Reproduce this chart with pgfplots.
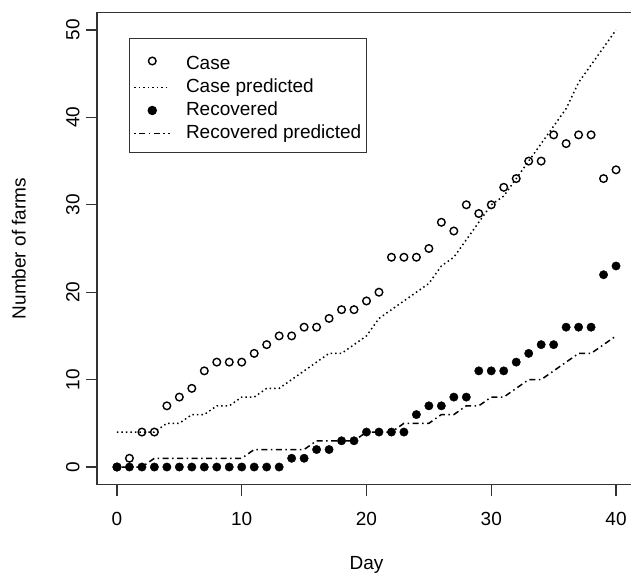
\documentclass[border=0pt]{standalone}
\usepackage{fontspec}
\setmainfont{Liberation Sans}
\usepackage{pgfplots}
\pgfplotsset{compat=1.18}

\begin{document}
\fontsize{19}{23}\selectfont
\begin{tikzpicture}
\begin{axis}[
    scale only axis,
    width=539pt, height=472pt,
    xmin=-1.6, xmax=41.6, ymin=-2, ymax=52,
    xtick={0,10,20,30,40},
    ytick={0,10,20,30,40,50},
    xtick pos=bottom, ytick pos=left,
    tick align=outside,
    major tick length=11pt,
    axis line style={line width=1.3pt, black!80},
    every tick/.style={line width=1.3pt, black!80},
    /pgf/number format/assume math mode=true,
    ticklabel style={font=\fontsize{19}{23}\selectfont},
    xticklabel style={anchor=north, yshift=-10pt},
    yticklabel style={rotate=90, anchor=south, xshift=0pt},
    label style={font=\fontsize{19}{23}\selectfont},
    xlabel={Day},
    ylabel={Number of farms},
    xlabel style={at={(axis description cs:0.5,-0.1695)}, anchor=center},
    ylabel style={at={(axis description cs:-0.145,0.5)}, anchor=center},
    legend style={at={(axis description cs:0.0594,0.946)}, anchor=north west,
        draw=black!80, line width=1pt, inner xsep=4pt, inner ysep=9pt,
        font=\fontsize{19}{23}\selectfont, row sep=3pt,
        nodes={inner sep=1pt, text height=14pt, text depth=4pt},
        /tikz/row 1/.style={nodes={text height=21pt}},
        /tikz/every odd column/.append style={column sep=14pt}},
    legend cell align=left,
    legend image code/.code={\draw[mark repeat=2,mark phase=2,#1] plot coordinates {(0pt,0pt)(18pt,0pt)(36pt,0pt)};},
]
\coordinate (sw) at (rel axis cs:0,0);

% observed cases
\addplot[only marks, mark=o, mark size=3.8pt, mark options={line width=1.4pt, black}] coordinates {
(0,0) (1,1) (2,4) (3,4) (4,7) (5,8) (6,9) (7,11) (8,12) (9,12) (10,12)
(11,13) (12,14) (13,15) (14,15) (15,16) (16,16) (17,17) (18,18) (19,18) (20,19)
(21,20) (22,24) (23,24) (24,24) (25,25) (26,28) (27,27) (28,30) (29,29) (30,30)
(31,32) (32,33) (33,35) (34,35) (35,38) (36,37) (37,38) (38,38) (39,33) (40,34)
};
\addlegendentry{Case}

% model for cases
\addplot[black, line width=1.5pt, dash pattern=on 1.5pt off 3pt] coordinates {
(0,4) (1,4) (2,4) (3,4) (4,5) (5,5) (6,6) (7,6) (8,7) (9,7) (10,8)
(11,8) (12,9) (13,9) (14,10) (15,11) (16,12) (17,13) (18,13) (19,14) (20,15)
(21,17) (22,18) (23,19) (24,20) (25,21) (26,23) (27,24) (28,26) (29,28) (30,30)
(31,31) (32,33) (33,35) (34,37) (35,39) (36,41) (37,44) (38,46) (39,48) (40,50)
};
\addlegendentry{Case predicted}

% observed recovered
\addplot[only marks, mark=*, mark size=4.2pt, mark options={black, fill=black}] coordinates {
(0,0) (1,0) (2,0) (3,0) (4,0) (5,0) (6,0) (7,0) (8,0) (9,0) (10,0)
(11,0) (12,0) (13,0) (14,1) (15,1) (16,2) (17,2) (18,3) (19,3) (20,4)
(21,4) (22,4) (23,4) (24,6) (25,7) (26,7) (27,8) (28,8) (29,11) (30,11)
(31,11) (32,12) (33,13) (34,14) (35,14) (36,16) (37,16) (38,16) (39,22) (40,23)
};
\addlegendentry{Recovered}

% model for recovered
\addplot[black, line width=1.5pt, dash pattern=on 1.5pt off 3.5pt on 6pt off 3.5pt] coordinates {
(0,0) (1,0) (2,0) (3,1) (4,1) (5,1) (6,1) (7,1) (8,1) (9,1) (10,1)
(11,2) (12,2) (13,2) (14,2) (15,2) (16,3) (17,3) (18,3) (19,3) (20,4)
(21,4) (22,4) (23,5) (24,5) (25,5) (26,6) (27,6) (28,7) (29,7) (30,8)
(31,8) (32,9) (33,10) (34,10) (35,11) (36,12) (37,13) (38,13) (39,14) (40,15)
};
\addlegendentry{Recovered predicted}
\end{axis}
\pgfresetboundingbox
\path[use as bounding box] ([shift={(-97pt,-90.5pt)}]sw) rectangle ([shift={(534pt,484.5pt)}]sw);
\end{tikzpicture}
\end{document}
